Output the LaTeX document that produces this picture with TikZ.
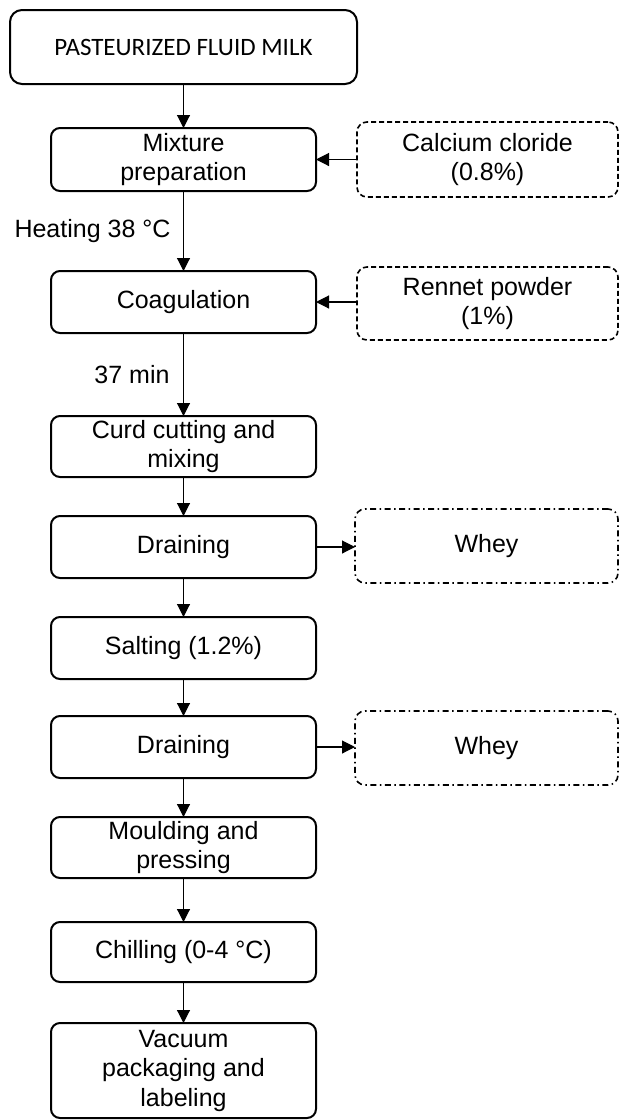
\documentclass[tikz,border=0pt]{standalone}
\usepackage{fontspec}
\setmainfont{Liberation Sans}
\newfontfamily\carlito{Carlito}
\usetikzlibrary{arrows.meta}
\begin{document}
\begin{tikzpicture}[x=1pt,y=-1pt,
  every node/.style={inner sep=0pt,outer sep=0pt,align=center,
    font=\fontsize{25}{29.5}\selectfont},
  stepbox/.style={draw,line width=2pt,rounded corners=9pt,minimum width=265pt},
  sidebox/.style={draw,line width=1.6pt,rounded corners=10pt,minimum width=261pt,
    dash pattern=on 5pt off 3pt},
  wheybox/.style={draw,line width=1.6pt,rounded corners=10pt,minimum width=263pt,
    dash pattern=on 6pt off 3.5pt on 1.5pt off 3.5pt},
  flow/.style={line width=1.1pt,-{Triangle[length=13pt,width=13pt]}},
  lbl/.style={}
]
\useasboundingbox (0,0) rectangle (619,1120);
\fill[white] (0,0) rectangle (619,1120);

\node[stepbox,minimum width=347pt,minimum height=74pt,rounded corners=12pt,
  font=\carlito\fontsize{25}{30}\selectfont] (top) at (183.5,47) {PASTEURIZED FLUID MILK};
\node[stepbox,minimum height=63pt] (mix) at (183.5,159.5) {Mixture\\preparation};
\node[sidebox,minimum height=75pt] (cal) at (487.5,159.5) {Calcium cloride\\(0.8\%)};
\node[stepbox,minimum height=62pt] (coag) at (183.5,302) {Coagulation};
\node[sidebox,minimum height=73pt] (ren) at (487.5,303.5) {Rennet powder\\(1\%)};
\node[stepbox,minimum height=61pt] (curd) at (183.5,446.5) {Curd cutting and\\mixing};
\node[stepbox,minimum height=62pt] (dr1) at (183.5,547) {Draining};
\node[wheybox,minimum height=74pt] (wh1) at (486.5,546) {Whey};
\node[stepbox,minimum height=62pt] (salt) at (183.5,648) {Salting (1.2\%)};
\node[stepbox,minimum height=62pt] (dr2) at (183.5,747) {Draining};
\node[wheybox,minimum height=74pt] (wh2) at (486.5,748) {Whey};
\node[stepbox,minimum height=61pt] (mould) at (183.5,847.5) {Moulding and\\pressing};
\node[stepbox,minimum height=60pt] (chill) at (183.5,952) {Chilling (0-4 °C)};
\node[stepbox,minimum height=95pt] (vac) at (183.5,1070.5) {Vacuum\\packaging and\\labeling};

\node[lbl] (heat) at (92.5,231) {Heating 38 °C};
\node[lbl] (min) at (132,375) {37 min};

\draw[flow] (top) -- (mix);
\draw[flow] (mix) -- (coag);
\draw[flow] (coag) -- (curd);
\draw[flow] (curd) -- (dr1);
\draw[flow] (dr1) -- (salt);
\draw[flow] (salt) -- (dr2);
\draw[flow] (dr2) -- (mould);
\draw[flow] (mould) -- (chill);
\draw[flow] (chill) -- (vac);
\draw[flow] (cal.west) -- (cal.west -| mix.east);
\draw[flow] (coag.east -| ren.west) -- (coag.east);
\draw[flow] (dr1.east) -- (dr1.east -| wh1.west);
\draw[flow] (dr2.east) -- (dr2.east -| wh2.west);
\end{tikzpicture}
\end{document}
